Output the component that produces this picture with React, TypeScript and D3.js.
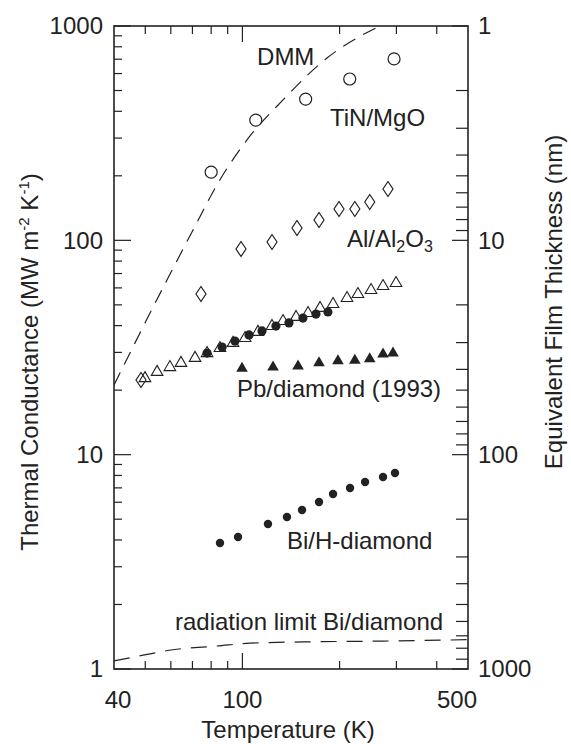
import * as d3 from 'd3';

// temperatures (K) and thermal conductance (MW m-2 K-1)
const tinT = [80, 110, 157, 215, 295];
const tinG = [208, 364, 456, 566, 702];

const alT = [48.5, 74.4, 99, 123.5, 147.6, 172.7, 199.2, 223, 248, 282.5];
const alG = [22.3, 56.2, 91.1, 98.2, 114.2, 124.4, 140, 140, 151, 173.6];

const openTriT = [49.9, 54.4, 59.6, 64.5, 71.3, 77.7, 85.2, 93.5, 101.9, 111.7, 123.5, 133.6, 146.6, 159.7, 174, 190.9, 210.9, 228, 250.3, 272.7, 299.2];
const openTriG = [23.0, 24.6, 25.9, 27.1, 28.6, 30.1, 31.8, 33.6, 35.4, 37.8, 40.3, 42.5, 44.4, 46.3, 48.9, 51.0, 54.4, 56.8, 59.3, 61.9, 63.9];

const dotT = [77.7, 86.5, 94.8, 104.8, 115, 127, 139.4, 154, 169, 184];
const dotG = [29.8, 31.8, 33.9, 36.2, 37.8, 39.8, 41.2, 43.4, 45.3, 46.3];

const pbT = [99.7, 124.4, 148.7, 172.7, 197.7, 223, 248, 272.7, 292.8];
const pbG = [25.6, 25.9, 26.2, 27.1, 27.7, 27.9, 28.3, 29.8, 30.1];

const biT = [85.2, 96.9, 120, 137.4, 153, 172.7, 190.9, 215.5, 239.9, 272.7, 297];
const biG = [3.87, 4.13, 4.75, 5.12, 5.52, 6.01, 6.55, 6.99, 7.46, 7.87, 8.21];

const dmmT = [40, 48.5, 58.8, 70.3, 84, 103.3, 133.6, 182.8, 245, 267];
const dmmG = [21.1, 37.8, 66.7, 111.7, 185, 294, 452, 709, 938, 1000];

const radT = [40, 49.2, 60.9, 83.4, 105.6, 170, 272.7, 500];
const radG = [1.09, 1.16, 1.23, 1.28, 1.32, 1.34, 1.35, 1.37];

const xTickLabels = ['40', '100', '500'];
const yTickLabels = ['1', '10', '100', '1000'];
const rTickLabels = ['1', '10', '100', '1000'];

const labels = [
  { text: 'DMM', t: 111, g: 658 },
  { text: 'TiN/MgO', t: 186.8, g: 341.7 },
  { text: 'Pb/diamond (1993)', t: 96.2, g: 18.6 },
  { text: 'Bi/H-diamond', t: 137.4, g: 3.63 },
  { text: 'radiation limit Bi/diamond', t: 61.8, g: 1.52 },
];

const W = 571;
const H = 744;
const left = 114;
const right = 468;
const top = 26;
const bottom = 669;
const ink = '#222';
const font = '"Liberation Sans", Arial, Helvetica, sans-serif';

const zip = (a: number[], b: number[]) => a.map((v, i) => [v, b[i]] as [number, number]);

export default function App() {
  const x = d3.scaleLog().domain([40, 500]).range([left, right]);
  const y = d3.scaleLog().domain([1, 1000]).range([bottom, top]);
  const yr = d3.scaleLog().domain([1, 1000]).range([top, bottom]);

  const line = d3
    .line<[number, number]>()
    .x((d) => x(d[0]))
    .y((d) => y(d[1]))
    .curve(d3.curveMonotoneX);

  const xMinor = [50, 60, 70, 80, 90, 200, 300, 400];
  const logMinor: number[] = [];
  [1, 10, 100].forEach((dec) => {
    for (let k = 2; k <= 9; k++) logMinor.push(k * dec);
  });
  const decades = [1, 10, 100, 1000];

  const diamond = (cx: number, cy: number) =>
    `M${cx},${cy - 7.5}L${cx + 5},${cy}L${cx},${cy + 7.5}L${cx - 5},${cy}Z`;
  const tri = (cx: number, cy: number) =>
    `M${cx},${cy - 5.5}L${cx + 5.8},${cy + 4.5}L${cx - 5.8},${cy + 4.5}Z`;

  const xLabDx = [4, 0, -11];

  return (
    <svg
      width={W}
      height={H}
      style={{ position: 'absolute', left: 0, top: 0, background: '#fff' }}
      fontFamily={font}
    >
      <defs>
        <clipPath id='plot'>
          <rect x={left} y={top} width={right - left} height={bottom - top} />
        </clipPath>
      </defs>

      {/* ticks */}
      <g stroke={ink} strokeWidth={1.2}>
        {xMinor.map((t) => (
          <g key={'xm' + t}>
            <line x1={x(t)} x2={x(t)} y1={bottom} y2={bottom - 8} />
            <line x1={x(t)} x2={x(t)} y1={top} y2={top + 8} />
          </g>
        ))}
        <line x1={x(100)} x2={x(100)} y1={bottom} y2={bottom - 16} />
        <line x1={x(100)} x2={x(100)} y1={top} y2={top + 16} />
        {logMinor.map((v) => (
          <g key={'ym' + v}>
            <line x1={left} x2={left + 8} y1={y(v)} y2={y(v)} />
            <line x1={right} x2={right - 12} y1={yr(v)} y2={yr(v)} />
          </g>
        ))}
        {decades.map((v) => (
          <g key={'yM' + v}>
            <line x1={left} x2={left + 17} y1={y(v)} y2={y(v)} />
            <line x1={right} x2={right - 16} y1={yr(v)} y2={yr(v)} />
          </g>
        ))}
      </g>

      {/* frame */}
      <rect
        x={left}
        y={top}
        width={right - left}
        height={bottom - top}
        fill='none'
        stroke={ink}
        strokeWidth={1.6}
      />

      <g clipPath='url(#plot)'>
        <path
          d={line(zip(dmmT, dmmG)) || ''}
          fill='none'
          stroke={ink}
          strokeWidth={1.2}
          strokeDasharray='14,9'
        />
        <path
          d={line(zip(radT, radG)) || ''}
          fill='none'
          stroke={ink}
          strokeWidth={1.2}
          strokeDasharray='16,10'
        />

        {zip(tinT, tinG).map(([t, g], i) => (
          <circle key={'tin' + i} cx={x(t)} cy={y(g)} r={6} fill='#fff' stroke={ink} strokeWidth={1.2} />
        ))}
        {zip(alT, alG).map(([t, g], i) => (
          <path key={'al' + i} d={diamond(x(t), y(g))} fill='none' stroke={ink} strokeWidth={1.2} />
        ))}
        {zip(openTriT, openTriG).map(([t, g], i) => (
          <path key={'ot' + i} d={tri(x(t), y(g))} fill='none' stroke={ink} strokeWidth={1.1} />
        ))}
        {zip(dotT, dotG).map(([t, g], i) => (
          <circle key={'dot' + i} cx={x(t)} cy={y(g)} r={4.6} fill={ink} />
        ))}
        {zip(pbT, pbG).map(([t, g], i) => (
          <path key={'pb' + i} d={tri(x(t), y(g))} fill={ink} />
        ))}
        {zip(biT, biG).map(([t, g], i) => (
          <circle key={'bi' + i} cx={x(t)} cy={y(g)} r={4.2} fill={ink} />
        ))}
      </g>

      {/* annotations */}
      <g fontSize={24} fill={ink}>
        {labels.map((l) => (
          <text key={l.text} x={x(l.t)} y={y(l.g)}>
            {l.text}
          </text>
        ))}
        <text x={x(210.9)} y={y(93.1)}>
          Al/Al
          <tspan fontSize={16} dy={5}>2</tspan>
          <tspan dy={-5}>O</tspan>
          <tspan fontSize={16} dy={5}>3</tspan>
        </text>
      </g>

      {/* tick labels */}
      <g fontSize={24} fill={ink}>
        {[40, 100, 500].map((t, i) => (
          <text key={'xl' + t} x={x(t) + xLabDx[i]} y={bottom + 39} textAnchor='middle'>
            {xTickLabels[i]}
          </text>
        ))}
        {decades.map((v, i) => (
          <text key={'yl' + v} x={left - 11} y={y(v)} dy='0.35em' textAnchor='end'>
            {yTickLabels[i]}
          </text>
        ))}
        {decades.map((v, i) => (
          <text key={'rl' + v} x={right + 10} y={yr(v)} dy='0.35em' textAnchor='start'>
            {rTickLabels[i]}
          </text>
        ))}
      </g>

      {/* axis titles */}
      <g fontSize={24} fill={ink}>
        <text x={(left + right) / 2 - 3} y={738} textAnchor='middle'>
          Temperature (K)
        </text>
        <text transform='translate(38,362) rotate(-90)' textAnchor='middle'>
          Thermal Conductance (MW m
          <tspan fontSize={15} dy={-9}>-2</tspan>
          <tspan dy={9}> K</tspan>
          <tspan fontSize={15} dy={-9}>-1</tspan>
          <tspan dy={9}>)</tspan>
        </text>
        <text transform='translate(562,302) rotate(-90)' textAnchor='middle'>
          Equivalent Film Thickness (nm)
        </text>
      </g>
    </svg>
  );
}
